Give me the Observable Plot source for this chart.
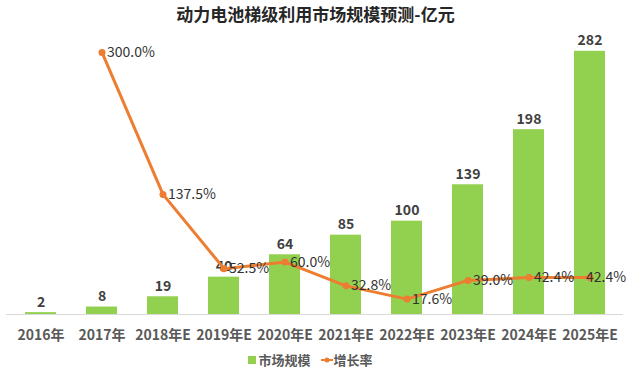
<!DOCTYPE html>
<html><head><meta charset="utf-8">
<script src="https://cdn.jsdelivr.net/npm/d3@7"></script>
<script src="https://cdn.jsdelivr.net/npm/@observablehq/plot@0.6"></script>
<style>
body{margin:0;background:#fff;font-family:"Noto Sans CJK SC","Noto Sans",sans-serif;width:631px;height:371px;overflow:hidden;}
#title{height:30px;line-height:28px;text-align:center;font-size:17px;font-weight:bold;color:#262626;}
#chart{height:318px;}
#legend{height:23px;display:flex;justify-content:center;align-items:center;font-size:13px;font-weight:bold;color:#595959;padding-right:10px;box-sizing:border-box;}
.item{display:flex;align-items:center;margin:0 5px;}
.sw{width:8px;height:8px;background:#92D050;margin-right:2px;}
</style></head><body>
<div id="title">动力电池梯级利用市场规模预测-亿元</div>
<div id="chart"></div>
<div id="legend">
  <div class="item"><div class="sw"></div>市场规模</div>
  <div class="item"><svg width="12" height="8" style="margin-right:1px"><line x1="0" y1="4" x2="12" y2="4" stroke="#ED7D31" stroke-width="2"/><circle cx="6" cy="4" r="2.5" fill="#ED7D31"/></svg>增长率</div>
</div>
<script>
const years = ["2016年","2017年","2018年E","2019年E","2020年E","2021年E","2022年E","2023年E","2024年E","2025年E"];
const market = [2, 8, 19, 40, 64, 85, 100, 139, 198, 282];
const growth = [null, 300.0, 137.5, 52.5, 60.0, 32.8, 17.6, 39.0, 42.4, 42.4];

const data = years.map((y, i) => ({year: y, value: market[i], rate: growth[i]}));
const rateData = data.filter(d => d.rate != null);
const lastYear = years[years.length - 1];
const rateMain = rateData.filter(d => d.year !== lastYear);
const rateLast = rateData.filter(d => d.year === lastYear);
const k = 0.936; // secondary-axis mapping of percent onto the bar scale
const ry = d => d.rate * k;
const pct = d => d.rate.toFixed(1) + "%";

const plot = Plot.plot({
  width: 631, height: 318,
  marginTop: 4, marginBottom: 34, marginLeft: 6, marginRight: 8,
  style: {fontFamily: '"Noto Sans CJK SC","Noto Sans",sans-serif', background: "#fff", color: "#595959", overflow: "visible"},
  x: {domain: years, paddingInner: 0.5, paddingOuter: 0.25, label: null},
  y: {domain: [0, 300], axis: null},
  marks: [
    Plot.barY(data, {x: "year", y: "value", fill: "#92D050"}),
    Plot.ruleY([0], {stroke: "#d9d9d9"}),
    Plot.axisX({tickSize: 0, tickPadding: 16, fontSize: 14, fontWeight: "bold", label: null}),
    Plot.text(data, {x: "year", y: "value", text: d => String(d.value), dy: -6, lineAnchor: "bottom", fontSize: 14, fontWeight: "bold", fill: "#404040"}),
    Plot.line(rateData, {x: "year", y: ry, stroke: "#ED7D31", strokeWidth: 3}),
    Plot.dot(rateData, {x: "year", y: ry, r: 3.5, fill: "#ED7D31"}),
    Plot.text(rateMain, {x: "year", y: ry, text: pct, textAnchor: "start", dx: 5, fontSize: 14, fill: "#333"}),
    Plot.text(rateLast, {x: "year", y: ry, text: pct, textAnchor: "start", dx: -4, fontSize: 14, fill: "#333"})
  ]
});
document.getElementById("chart").appendChild(plot);
</script>
</body></html>
